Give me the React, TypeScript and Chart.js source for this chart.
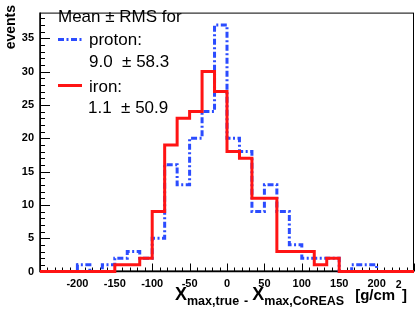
import React, { useEffect, useRef } from 'react';
import { Chart, registerables } from 'chart.js';
Chart.register(...registerables);

const X_MIN = -250;
const X_MAX = 250;
const N_BINS = 30;
const Y_MAX = 38.85;

const protonCounts = [0, 0, 0, 0, 1, 0, 1, 2, 3, 2, 5, 16, 13, 20, 24, 37, 20, 18, 9, 13, 9, 4, 2, 2, 2, 0, 1, 1, 0, 0];
const ironCounts = [0, 0, 0, 0, 0, 0, 0, 1, 1, 2, 9, 19, 23, 24, 30, 27, 18, 17, 11, 11, 3, 3, 3, 1, 2, 0, 0, 0, 0, 0];

const xTickLabels = [-200, -150, -100, -50, 0, 50, 100, 150, 200];
const yTickLabels = [0, 5, 10, 15, 20, 25, 30, 35];
const X_MAJOR = 50;
const X_MINOR = 10;
const Y_MAJOR = 5;
const Y_MINOR = 1;

const legendTitle = 'Mean ± RMS for';
const protonName = 'proton:';
const protonStats = '9.0  ± 58.3';
const ironName = 'iron:';
const ironStats = '1.1  ± 50.9';
const yTitle = 'events';

const PROTON_COLOR = '#2b4cff';
const IRON_COLOR = '#ff1414';
const PROTON_DASH = [6, 2.5, 2, 2.5];
const FONT = '"Liberation Sans", Arial, Helvetica, sans-serif';

function stepPoints(counts: number[]) {
  const w = (X_MAX - X_MIN) / N_BINS;
  const pts: { x: number; y: number }[] = [];
  for (let i = 0; i <= N_BINS; i++) {
    pts.push({ x: X_MIN + i * w, y: counts[Math.min(i, N_BINS - 1)] });
  }
  return pts;
}

const overlay = {
  id: 'overlay',
  beforeDatasetsDraw(chart: any) {
    const { ctx, chartArea } = chart;
    const xs = chart.scales.x;
    const ys = chart.scales.y;
    const { left, right, top, bottom } = chartArea;
    ctx.save();
    ctx.strokeStyle = '#000';
    ctx.lineWidth = 1;
    ctx.strokeRect(left + 0.5, top + 0.5, right - left - 1, bottom - top - 1);
    ctx.lineWidth = 1.5;
    ctx.beginPath();
    ctx.moveTo(left, top);
    ctx.lineTo(left, bottom);
    ctx.lineTo(right, bottom);
    ctx.stroke();
    ctx.lineWidth = 1;
    ctx.beginPath();
    for (let v = X_MIN; v <= X_MAX + 1e-6; v += X_MINOR) {
      const px = Math.round(xs.getPixelForValue(v)) + 0.5;
      const len = Math.abs(v % X_MAJOR) < 1e-6 ? 8 : 4;
      ctx.moveTo(px, bottom);
      ctx.lineTo(px, bottom - len);
    }
    for (let v = 0; v <= Y_MAX + 1e-6; v += Y_MINOR) {
      const py = Math.round(ys.getPixelForValue(v)) + 0.5;
      const len = Math.abs(v % Y_MAJOR) < 1e-6 ? 10 : 5;
      ctx.moveTo(left, py);
      ctx.lineTo(left + len, py);
    }
    ctx.stroke();
    ctx.restore();
  },
  afterDraw(chart: any) {
    const { ctx } = chart;
    ctx.save();
    ctx.fillStyle = '#000';
    ctx.textBaseline = 'alphabetic';
    // legend
    ctx.font = `17px ${FONT}`;
    ctx.textAlign = 'left';
    ctx.fillText(legendTitle, 58, 21.5);
    ctx.fillText(protonName, 89, 45);
    ctx.fillText(protonStats, 89, 66.5);
    ctx.fillText(ironName, 89, 91.5);
    ctx.fillText(ironStats, 88, 113);
    ctx.lineWidth = 3;
    ctx.strokeStyle = PROTON_COLOR;
    ctx.setLineDash(PROTON_DASH);
    ctx.beginPath();
    ctx.moveTo(58, 39.5);
    ctx.lineTo(84, 39.5);
    ctx.stroke();
    ctx.setLineDash([]);
    ctx.strokeStyle = IRON_COLOR;
    ctx.beginPath();
    ctx.moveTo(58, 85.5);
    ctx.lineTo(82, 85.5);
    ctx.stroke();

    // y title
    ctx.save();
    ctx.translate(15, 5);
    ctx.rotate(-Math.PI / 2);
    ctx.font = `bold 14px ${FONT}`;
    ctx.textAlign = 'right';
    ctx.fillText(yTitle, 0, 0);
    ctx.restore();

    // x title
    const base = 300;
    const pieces: { t: string; f: string; dy: number; gap: number }[] = [
      { t: 'X', f: `bold 18px ${FONT}`, dy: 0, gap: 0 },
      { t: 'max,true', f: `bold 12.5px ${FONT}`, dy: 4.5, gap: 0 },
      { t: '-', f: `bold 12.5px ${FONT}`, dy: 4.5, gap: 5 },
      { t: 'X', f: `bold 18px ${FONT}`, dy: 0, gap: 4 },
      { t: 'max,CoREAS', f: `bold 12.5px ${FONT}`, dy: 4.5, gap: 0 },
      { t: '[g/cm', f: `bold 15px ${FONT}`, dy: 0, gap: 11 },
      { t: '2', f: `bold 10.5px ${FONT}`, dy: -12, gap: 0.5 },
      { t: ']', f: `bold 15px ${FONT}`, dy: 0, gap: 0.5 },
    ];
    let total = 0;
    for (const p of pieces) {
      ctx.font = p.f;
      total += p.gap + ctx.measureText(p.t).width;
    }
    let x = 407 - total;
    ctx.textAlign = 'left';
    for (const p of pieces) {
      ctx.font = p.f;
      x += p.gap;
      ctx.fillText(p.t, x, base + p.dy);
      x += ctx.measureText(p.t).width;
    }
    ctx.restore();
  },
};

export default function App() {
  const ref = useRef<HTMLCanvasElement | null>(null);
  useEffect(() => {
    document.body.style.margin = '0';
    const canvas = ref.current;
    if (!canvas) return;
    const chart = new Chart(canvas, {
      type: 'line',
      data: {
        datasets: [
          {
            label: 'iron',
            data: stepPoints(ironCounts),
            borderColor: IRON_COLOR,
            borderWidth: 3,
            stepped: 'after',
            pointRadius: 0,
            fill: false,
            clip: false as any,
          },
          {
            label: 'proton',
            data: stepPoints(protonCounts),
            borderColor: PROTON_COLOR,
            borderWidth: 3,
            borderDash: PROTON_DASH,
            stepped: 'after',
            pointRadius: 0,
            fill: false,
            clip: false as any,
          },
        ],
      },
      options: {
        animation: false,
        responsive: false,
        devicePixelRatio: 1,
        layout: { padding: { top: 1, right: 2, left: 0, bottom: 0 } },
        plugins: { legend: { display: false }, tooltip: { enabled: false } },
        events: [],
        scales: {
          x: {
            type: 'linear',
            min: X_MIN,
            max: X_MAX,
            grid: { display: false, drawTicks: false },
            border: { display: false },
            ticks: {
              color: '#000',
              font: { family: FONT, size: 11, weight: 'bold' },
              padding: 6,
              maxRotation: 0,
              autoSkip: false,
            },
            afterBuildTicks: (s: any) => {
              s.ticks = xTickLabels.map((v) => ({ value: v }));
            },
            afterFit: (s: any) => {
              s.height = 43.5;
            },
          },
          y: {
            type: 'linear',
            min: 0,
            max: Y_MAX,
            grid: { display: false, drawTicks: false },
            border: { display: false },
            ticks: {
              color: '#000',
              font: { family: FONT, size: 11, weight: 'bold' },
              padding: 6,
              autoSkip: false,
            },
            afterBuildTicks: (s: any) => {
              s.ticks = yTickLabels.map((v) => ({ value: v }));
            },
            afterFit: (s: any) => {
              s.width = 40;
            },
          },
        },
      },
      plugins: [overlay],
    });
    return () => chart.destroy();
  }, []);
  return (
    <div style={{ position: 'fixed', left: 0, top: 0, width: 416, height: 315, background: '#fff' }}>
      <canvas ref={ref} width={416} height={315} style={{ display: 'block' }} />
    </div>
  );
}
